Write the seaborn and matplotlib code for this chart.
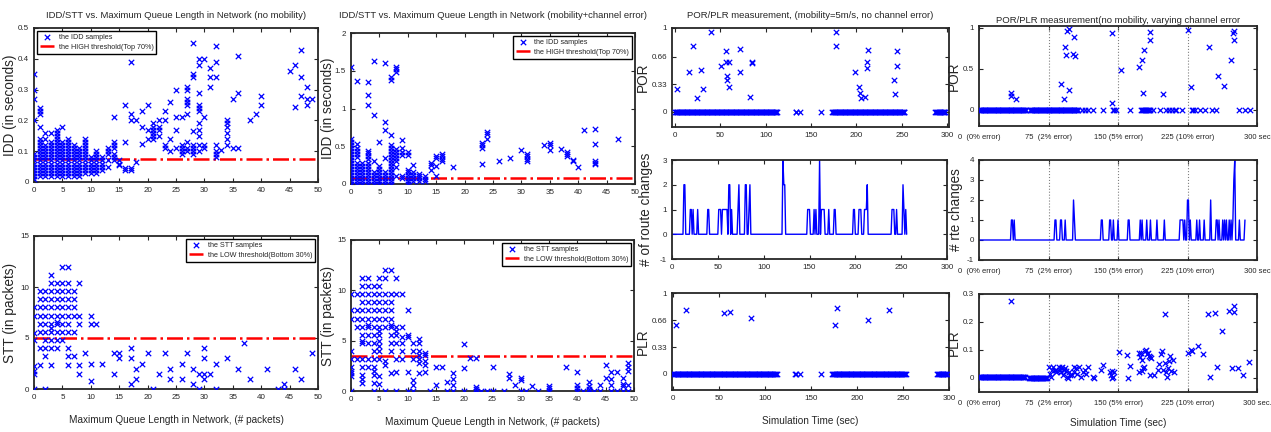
import numpy as np
import matplotlib
matplotlib.use('Agg')
import matplotlib.pyplot as plt
import seaborn as sns

# ---------------- data ----------------
# IDD vs max queue length, no mobility: (queue length, [IDD samples])
idd_nomob = [
    (0, [0.01, 0.02, 0.03, 0.04, 0.05, 0.06, 0.07, 0.08, 0.09, 0.20, 0.27, 0.30, 0.35]),
    (1, [0.02, 0.03, 0.04, 0.05, 0.06, 0.07, 0.08, 0.09, 0.10, 0.11, 0.12, 0.13, 0.14, 0.18, 0.22, 0.23, 0.24]),
    (2, [0.02, 0.03, 0.04, 0.05, 0.06, 0.07, 0.08, 0.09, 0.10, 0.11, 0.12, 0.14, 0.16]),
    (3, [0.02, 0.03, 0.04, 0.05, 0.06, 0.07, 0.08, 0.09, 0.10, 0.11, 0.12, 0.13, 0.16]),
    (4, [0.02, 0.03, 0.04, 0.05, 0.06, 0.07, 0.08, 0.09, 0.10, 0.11, 0.12, 0.13, 0.14, 0.15, 0.16, 0.17]),
    (5, [0.02, 0.03, 0.04, 0.05, 0.06, 0.07, 0.08, 0.09, 0.10, 0.11, 0.12, 0.13, 0.18]),
    (6, [0.02, 0.03, 0.04, 0.05, 0.06, 0.07, 0.08, 0.09, 0.10, 0.11, 0.12, 0.13, 0.14]),
    (7, [0.02, 0.03, 0.04, 0.05, 0.06, 0.07, 0.08, 0.09, 0.10, 0.11, 0.12]),
    (8, [0.02, 0.03, 0.04, 0.05, 0.06, 0.07, 0.08, 0.09, 0.10, 0.11]),
    (9, [0.03, 0.04, 0.05, 0.06, 0.07, 0.08, 0.09, 0.10, 0.11, 0.12, 0.13, 0.14]),
    (10, [0.03, 0.04, 0.05, 0.06, 0.07, 0.08]),
    (11, [0.03, 0.04, 0.05, 0.06, 0.07, 0.08, 0.09, 0.10]),
    (12, [0.04, 0.05, 0.06, 0.07, 0.08]),
    (13, [0.05, 0.07, 0.09, 0.10, 0.11]),
    (14, [0.07, 0.08, 0.09, 0.11, 0.12, 0.13, 0.21]),
    (15, [0.055, 0.06, 0.07]),
    (16, [0.04, 0.045, 0.13, 0.25]),
    (17, [0.04, 0.045, 0.20, 0.22, 0.39]),
    (18, [0.065, 0.20]),
    (19, [0.125, 0.18, 0.23]),
    (20, [0.14, 0.17, 0.25]),
    (21, [0.14, 0.15, 0.16, 0.17, 0.18, 0.19]),
    (22, [0.15, 0.17, 0.18, 0.20]),
    (23, [0.11, 0.12, 0.20, 0.23]),
    (24, [0.10, 0.14, 0.26]),
    (25, [0.11, 0.17, 0.21, 0.30]),
    (26, [0.09, 0.10, 0.11, 0.12, 0.21]),
    (27, [0.10, 0.11, 0.13, 0.22, 0.25, 0.26, 0.27, 0.30, 0.31]),
    (28, [0.09, 0.10, 0.11, 0.12, 0.165, 0.34, 0.35, 0.45]),
    (29, [0.10, 0.12, 0.15, 0.17, 0.19, 0.23, 0.24, 0.25, 0.29, 0.38, 0.40]),
    (30, [0.11, 0.12, 0.21, 0.40]),
    (31, [0.31, 0.34, 0.37]),
    (32, [0.08, 0.09, 0.10, 0.12, 0.34, 0.39, 0.44]),
    (33, [0.105]),
    (34, [0.12, 0.14, 0.16, 0.18, 0.19, 0.20]),
    (35, [0.11, 0.27]),
    (36, [0.11, 0.29, 0.41]),
    (38, [0.20]),
    (39, [0.22]),
    (40, [0.25, 0.28]),
    (45, [0.36]),
    (46, [0.245, 0.38]),
    (47, [0.28, 0.34, 0.43]),
    (48, [0.25, 0.27, 0.31]),
    (49, [0.27]),
]
idd_nomob_thr = 0.075

# STT vs max queue length, no mobility
stt_nomob = [
    (0, [0, 1.5, 1.8, 2.3, 4.8, 5.5, 7.2, 8.0]),
    (1, [2.4, 4.0, 5.6, 6.4, 7.2, 8.0, 8.8, 9.6]),
    (2, [0, 3.2, 4.0, 4.8, 5.6, 6.4, 7.2, 8.0, 8.8, 9.6]),
    (3, [2.4, 4.0, 4.8, 5.6, 6.0, 6.4, 7.2, 8.0, 8.8, 9.6, 10.4, 11.2]),
    (4, [4.0, 4.8, 5.6, 6.4, 6.6, 7.2, 8.0, 8.8, 9.6, 10.4]),
    (5, [4.8, 5.6, 6.4, 7.2, 8.0, 8.8, 9.6, 10.4, 12.0]),
    (6, [2.4, 3.2, 4.0, 5.6, 6.4, 7.2, 8.0, 8.8, 9.6, 10.4, 12.0]),
    (7, [3.2, 5.6, 7.2, 8.0, 8.8, 9.6]),
    (8, [1.5, 2.4, 6.4, 7.2, 10.4]),
    (9, [3.5]),
    (10, [0.8, 2.5, 6.4, 7.2]),
    (11, [6.4]),
    (12, [2.5]),
    (14, [1.5, 3.5]),
    (15, [3.0, 3.5]),
    (17, [0.5, 3.0, 4.0]),
    (18, [1.0, 2.0]),
    (19, [2.5]),
    (20, [3.5]),
    (21, [0]),
    (22, [1.5]),
    (23, [3.5]),
    (24, [1.0, 2.0]),
    (26, [1.0, 2.5]),
    (27, [3.5]),
    (28, [0.5, 2.0]),
    (29, [0, 1.5]),
    (30, [1.0, 1.5, 3.0, 4.0]),
    (31, [1.5]),
    (32, [0, 2.5]),
    (34, [3.0]),
    (36, [2.0]),
    (37, [4.5]),
    (38, [1.0]),
    (41, [2.0]),
    (43, [0]),
    (44, [0, 0.5]),
    (46, [2.0]),
    (47, [1.0]),
    (49, [3.5]),
]
stt_nomob_thr = 5.0

# IDD vs max queue length, mobility + channel error
idd_mob = [
    (0, [0.0, 0.04, 0.08, 0.12, 0.16, 0.20, 0.24, 0.28, 0.32, 0.36, 0.40, 0.44, 0.48, 0.52, 0.56, 0.60, 1.55]),
    (1, [0.0, 0.04, 0.08, 0.12, 0.16, 0.20, 0.24, 0.28, 0.36, 0.40, 0.44, 0.48, 0.53, 1.37]),
    (2, [0.0, 0.04, 0.08, 0.12, 0.16, 0.20, 0.24, 0.28]),
    (3, [0.0, 0.04, 0.08, 0.12, 0.16, 0.20, 0.24, 0.28, 0.33, 0.37, 0.41, 0.44, 1.04, 1.18, 1.35]),
    (4, [0.0, 0.04, 0.08, 0.12, 0.16, 0.30, 0.91, 1.63]),
    (5, [0.0, 0.04, 0.08, 0.12, 0.16, 0.20, 0.24, 0.56]),
    (6, [0.0, 0.04, 0.08, 0.12, 0.16, 0.34, 0.72, 0.82, 1.60]),
    (7, [0.0, 0.04, 0.08, 0.12, 0.16, 0.20, 0.24, 0.28, 0.32, 0.36, 0.40, 0.44, 0.48, 0.52, 0.65, 1.38, 1.42]),
    (8, [0.10, 0.22, 0.30, 0.34, 0.38, 0.42, 0.46, 1.48, 1.52, 1.55]),
    (9, [0.08, 0.10, 0.38, 0.42, 0.48, 0.58]),
    (10, [0.0, 0.04, 0.08, 0.12, 0.16, 0.18, 0.38, 0.42]),
    (11, [0.04, 0.08, 0.12, 0.16, 0.25]),
    (12, [0.04, 0.08, 0.11, 0.13]),
    (13, [0.04, 0.07, 0.10]),
    (14, [0.18, 0.25, 0.28]),
    (15, [0.10, 0.24, 0.34, 0.37]),
    (16, [0.30, 0.33, 0.37, 0.40]),
    (18, [0.22]),
    (23, [0.27, 0.48, 0.51, 0.54]),
    (24, [0.60, 0.66, 0.69]),
    (26, [0.30]),
    (28, [0.35]),
    (30, [0.45]),
    (31, [0.30, 0.33, 0.37, 0.40]),
    (34, [0.51]),
    (35, [0.45, 0.51, 0.54]),
    (37, [0.47]),
    (38, [0.37, 0.40, 0.43]),
    (39, [0.30, 0.32]),
    (40, [0.23]),
    (41, [0.72]),
    (43, [0.26, 0.28, 0.30, 0.53, 0.73]),
    (47, [0.59]),
]
idd_mob_thr = 0.08

# STT vs max queue length, mobility + channel error
stt_mob = [
    (0, [0, 1.5, 1.8, 2.0, 2.4, 3.2, 4.0, 7.2, 8.0, 9.6]),
    (1, [3.2, 6.4, 7.2, 8.0, 9.6]),
    (2, [0.8, 1.2, 1.6, 2.4, 3.2, 4.8, 5.0, 5.6, 6.4, 7.2, 8.0, 8.8, 9.6, 10.4, 11.2]),
    (3, [2.4, 3.2, 4.8, 5.6, 6.4, 6.6, 7.2, 8.0, 8.8, 9.6, 10.4, 11.2]),
    (4, [0, 0.8, 1.6, 2.0, 2.4, 3.2, 4.0, 4.8, 5.6, 6.4, 7.2, 8.0, 8.8, 9.6, 10.4]),
    (5, [0.7, 1.5, 3.2, 4.0, 4.5, 5.0, 5.6, 6.0, 6.4, 7.2, 8.0, 8.8, 9.6, 10.4, 11.2]),
    (6, [0, 2.6, 3.0, 6.4, 7.2, 8.0, 8.8, 9.6, 11.2, 12.0]),
    (7, [1.8, 4.0, 4.8, 5.6, 6.4, 6.6, 7.2, 8.0, 8.8, 9.6, 12.0]),
    (8, [0, 1.9, 3.2, 4.8, 5.6, 6.0, 6.4, 9.6, 11.2]),
    (9, [3.2, 4.0, 4.8, 5.4, 6.4, 9.6]),
    (10, [0, 1.9, 5.4, 5.6, 8.0]),
    (11, [0, 0.6, 1.1, 3.2, 4.0, 4.8]),
    (12, [1.8, 2.8, 3.2, 3.6, 4.0, 4.8, 5.2]),
    (13, [1.9, 2.6, 3.0, 3.6, 3.8]),
    (14, [0]),
    (15, [0.6, 2.4]),
    (16, [2.4]),
    (17, [0, 0.9]),
    (18, [0, 0.6, 1.2, 1.8]),
    (20, [0, 2.3, 4.7]),
    (21, [3.3]),
    (22, [0, 0.2, 0.4, 3.3]),
    (23, [0]),
    (24, [0]),
    (25, [0, 2.4]),
    (27, [0]),
    (28, [1.3, 1.7]),
    (29, [0.6]),
    (30, [0, 1.1, 1.3]),
    (31, [0]),
    (32, [0.5]),
    (33, [0]),
    (35, [0, 0.3, 0.5]),
    (38, [2.4]),
    (40, [0, 0.3, 0.6, 1.9]),
    (41, [0]),
    (42, [0, 0.2, 0.5, 0.9]),
    (43, [0]),
    (44, [0, 0.6]),
    (45, [1.3, 2.6]),
    (46, [0, 0.6, 1.2, 1.9]),
    (47, [0, 1.9]),
    (48, [0, 0.5, 0.7, 1.3]),
    (49, [0, 0.6, 2.0, 2.4, 2.8]),
]
stt_mob_thr = 3.5

# POR/PLR, mobility = 5 m/s (simulation seconds)
mob_zero_spans = [(0, 113), (133, 134), (138, 138), (161, 161), (173, 253), (287, 298)]
por_mob = [(2, 0.27), (16, 0.47), (20, 0.78), (25, 0.16), (29, 0.5), (31, 0.27), (40, 0.95),
           (51, 0.55), (57, 0.73), (57, 0.6), (58, 0.38), (58, 0.43), (60, 0.6), (60, 0.3),
           (72, 0.75), (72, 0.47), (83, 0.18), (85, 0.58), (85, 0.6), (178, 0.95), (178, 0.78),
           (199, 0.47), (203, 0.3), (204, 0.22), (205, 0.16), (210, 0.18), (212, 0.52),
           (212, 0.6), (213, 0.74), (241, 0.38), (242, 0.21), (245, 0.55), (245, 0.72)]
plr_mob = [(3, 0.6), (14, 0.79), (56, 0.75), (62, 0.77), (85, 0.69), (176, 0.61),
           (178, 0.81), (212, 0.66), (235, 0.79)]
route_mob_end = 256
route_mob = [(13, 2), (14, 2), (20, 1), (21, 1), (23, 1), (28, 1), (39, 1), (40, 1), (51, 1),
             (52, 1), (53, 1), (55, 1), (56, 1), (57, 1), (58, 1), (59, 1), (60, 1), (62, 2),
             (63, 2), (65, 1), (72, 1), (73, 2), (80, 2), (81, 2), (84, 1), (85, 2), (121, 3),
             (122, 2), (123, 2), (148, 1), (149, 1), (150, 1), (155, 1), (157, 1), (161, 3),
             (163, 1), (164, 1), (165, 1), (166, 1), (171, 1), (177, 1), (178, 1), (198, 1),
             (199, 1), (204, 1), (205, 1), (206, 1), (210, 1), (211, 1), (212, 1), (213, 2),
             (240, 1), (241, 1), (242, 1), (245, 1), (252, 2), (253, 1), (255, 1)]

# POR/PLR, no mobility, varying channel error
err_bounds = [75, 150, 225]
err_tick_labels = ['0  (0% error)', '75  (2% error)', '150 (5% error)', '225 (10% error)', '300 sec']
por_err_zero_spans = [(0, 51), (55, 107), (175, 184)]
por_err_zero_single = [111, 114, 118, 123, 134, 145, 146, 148, 163, 188, 195, 202, 205, 208,
                       211, 213, 219, 230, 231, 233, 238, 244, 251, 256, 281, 287, 292]
por_err = [(35, 0.2), (35, 0.16), (40, 0.13), (89, 0.31), (92, 0.13), (93, 0.76), (94, 0.67),
           (95, 0.96), (97, 0.98), (97, 0.24), (101, 0.68), (103, 0.89), (104, 0.65),
           (143, 0.08), (144, 0.94), (153, 0.48), (173, 0.52), (176, 0.6), (177, 0.2),
           (178, 0.73), (184, 0.95), (185, 0.85), (199, 0.19), (226, 0.97), (229, 0.27),
           (248, 0.76), (258, 0.41), (264, 0.29), (272, 0.6), (274, 0.94), (275, 0.96),
           (275, 0.85)]
route_err_end = 287
route_err = [(35, 1), (36, 1), (38, 1), (82, 1), (83, 1), (88, 1), (89, 1), (93, 1), (102, 2),
             (103, 1), (132, 1), (133, 1), (141, 1), (142, 1), (145, 1), (150, 1), (161, 1),
             (162, 1), (174, 1), (176, 1), (181, 1), (185, 1), (192, 1), (200, 1), (217, 1),
             (218, 1), (219, 1), (220, 1), (222, 1), (225, 2), (226, 2), (228, 1), (235, 1),
             (238, 1), (243, 1), (250, 2), (256, 1), (257, 1), (259, 1), (263, 1), (265, 1),
             (267, 1), (270, 1), (272, 1), (274, 1), (275, 3), (276, 4), (281, 1), (287, 1)]
plr_err_base = [(0, 50, 0.005), (54, 73, 0.0)]
plr_err = [(34, 0.275),
           (76, 0.04), (77, 0.015), (78, 0.005), (79, 0.03), (80, 0.04), (82, 0.03), (83, 0.02),
           (84, 0.025), (86, 0.04), (87, 0.03), (88, 0.02), (89, 0.035), (90, 0.04), (91, 0.01),
           (92, 0.03), (93, 0.035), (94, 0.025), (95, 0.005), (96, 0.0), (97, 0.02), (98, 0.01),
           (100, 0.01), (102, 0.04), (103, 0.02), (105, 0.035), (106, 0.015), (108, 0.04),
           (110, 0.005), (112, 0.02), (114, 0.03), (116, 0.015), (118, 0.04), (123, 0.005),
           (124, 0.0), (132, 0.03), (134, 0.045), (141, 0.02), (142, 0.01), (143, 0.0),
           (144, 0.025), (145, 0.005), (146, 0.02),
           (151, 0.093), (160, 0.082), (161, 0.0), (163, 0.042), (173, 0.088), (173, 0.02),
           (174, 0.075), (175, 0.09), (176, 0.065), (176, 0.025), (177, 0.035), (178, 0.04),
           (179, 0.095), (180, 0.1), (181, 0.085), (182, 0.09), (183, 0.08), (184, 0.01),
           (185, 0.075), (186, 0.07), (189, 0.01), (193, 0.03), (194, 0.05), (196, 0.085),
           (197, 0.095), (199, 0.03), (201, 0.227), (201, 0.055), (202, 0.02), (203, 0.005),
           (204, 0.035), (205, 0.06), (206, 0.08), (207, 0.025), (209, 0.065), (210, 0.02),
           (226, 0.09), (229, 0.1), (230, 0.095), (236, 0.115), (242, 0.085), (247, 0.227),
           (249, 0.005), (255, 0.232), (257, 0.04), (262, 0.168), (270, 0.238), (273, 0.037),
           (275, 0.258), (275, 0.234), (280, 0.037), (285, 0.01), (291, 0.058)]

# ---------------- helpers ----------------
def flat(cols):
    xs, ys = [], []
    for x, vals in cols:
        for v in vals:
            xs.append(x)
            ys.append(v)
    return xs, ys

def span_times(spans):
    t = []
    for a, b in spans:
        t.extend(range(a, b + 1))
    return t

def spikes(events, t_end):
    t = np.arange(t_end + 1)
    c = np.zeros(t_end + 1)
    for ti, n in events:
        c[ti] = n
    return t, c

# ---------------- style ----------------
sns.set_style('ticks')
plt.rcParams['font.family'] = ['Liberation Sans', 'DejaVu Sans']
plt.rcParams['xtick.direction'] = 'in'
plt.rcParams['ytick.direction'] = 'in'
plt.rcParams['xtick.top'] = True
plt.rcParams['ytick.right'] = True
plt.rcParams['xtick.major.size'] = 3
plt.rcParams['ytick.major.size'] = 3
plt.rcParams['xtick.labelsize'] = 5.8
plt.rcParams['ytick.labelsize'] = 5.8
plt.rcParams['axes.linewidth'] = 1.3

BLUE = '#0000ff'
TITLE_FS = 6.8
XLAB_FS = 7.2
W, H = 1271, 432
fig = plt.figure(figsize=(W / 100, H / 100), dpi=100)

def add_ax(l, t, r, b):
    ax = fig.add_axes([l / W, 1 - b / H, (r - l) / W, (b - t) / H])
    ax._px = (l, r)
    return ax

def xmark(ax, x, y, label=None):
    sns.scatterplot(x=x, y=y, marker='x', color=BLUE, s=15, linewidth=0.9,
                    ax=ax, label=label, legend=False, zorder=3)

def ylab(ax, text, xc, fs=9.8):
    # xc: pixel column of the label centre
    ax.set_ylabel(text, fontsize=fs)
    l, r = ax._px
    ax.yaxis.set_label_coords((xc + fs * 0.55 - l) / (r - l), 0.5)

def legend(ax, loc):
    ax.legend(loc=loc, fancybox=False, edgecolor='black', framealpha=1,
              fontsize=5.2, handlelength=2.0, borderpad=0.4, labelspacing=0.4,
              handletextpad=0.6, borderaxespad=0.4)

# ---------------- column 1 / 2: IDD & STT ----------------
ax = add_ax(34, 28, 318, 182)
x, y = flat(idd_nomob)
xmark(ax, x, y, 'the IDD samples')
ax.axhline(idd_nomob_thr, color='red', ls='-.', lw=1.8, label='the HIGH threshold(Top 70%)')
ax.set_xlim(0, 50); ax.set_ylim(0, 0.5)
ax.set_xticks(range(0, 51, 5)); ax.set_yticks([0, 0.1, 0.2, 0.3, 0.4, 0.5])
ax.set_yticklabels(['0', '0.1', '0.2', '0.3', '0.4', '0.5'])
ylab(ax, 'IDD (in seconds)', 12)
ax.set_title('IDD/STT vs. Maximum Queue Length in Network (no mobility)', fontsize=TITLE_FS, pad=7)
legend(ax, 'upper left')

ax = add_ax(34, 236, 318, 389)
x, y = flat(stt_nomob)
xmark(ax, x, y, 'the STT samples')
ax.axhline(stt_nomob_thr, color='red', ls='-.', lw=1.8, label='the LOW threshold(Bottom 30%)')
ax.set_xlim(0, 50); ax.set_ylim(0, 15)
ax.set_xticks(range(0, 51, 5)); ax.set_yticks([0, 5, 10, 15])
ylab(ax, 'STT (in packets)', 12)
ax.set_xlabel('Maximum Queue Length in Network, (# packets)', fontsize=XLAB_FS, labelpad=10)
legend(ax, 'upper right')

ax = add_ax(351, 33, 635, 184)
x, y = flat(idd_mob)
xmark(ax, x, y, 'the IDD samples')
ax.axhline(idd_mob_thr, color='red', ls='-.', lw=1.8, label='the HIGH threshold(Top 70%)')
ax.set_xlim(0, 50); ax.set_ylim(0, 2)
ax.set_xticks(range(0, 51, 5)); ax.set_yticks([0, 0.5, 1, 1.5, 2])
ax.set_yticklabels(['0', '0.5', '1', '1.5', '2'])
ylab(ax, 'IDD (in seconds)', 330)
ax.set_title('IDD/STT vs. Maximum Queue Length in Network (mobility+channel error)', fontsize=TITLE_FS, pad=11)
legend(ax, 'upper right')

ax = add_ax(351, 240, 634, 391)
x, y = flat(stt_mob)
xmark(ax, x, y, 'the STT samples')
ax.axhline(stt_mob_thr, color='red', ls='-.', lw=1.8, label='the LOW threshold(Bottom 30%)')
ax.set_xlim(0, 50); ax.set_ylim(0, 15)
ax.set_xticks(range(0, 51, 5)); ax.set_yticks([0, 5, 10, 15])
ylab(ax, 'STT (in packets)', 330)
ax.set_xlabel('Maximum Queue Length in Network, (# packets)', fontsize=XLAB_FS, labelpad=10)
legend(ax, 'upper right')

# ---------------- column 3: mobility ----------------
zt = span_times(mob_zero_spans)

ax = add_ax(672, 28, 949, 127)
xmark(ax, zt, [0] * len(zt))
xmark(ax, [p[0] for p in por_mob], [p[1] for p in por_mob])
ax.set_xlim(-3, 302); ax.set_ylim(-0.18, 1)
ax.set_xticks(range(0, 301, 50)); ax.set_yticks([0, 0.33, 0.66, 1])
ax.set_yticklabels(['0', '0.33', '0.66', '1'])
ylab(ax, 'POR', 644)
ax.set_title('POR/PLR measurement, (mobility=5m/s, no channel error)', fontsize=TITLE_FS, pad=7)

ax = add_ax(672, 160, 947, 259)
t, c = spikes(route_mob, route_mob_end)
sns.lineplot(x=t, y=c, color=BLUE, lw=1.0, ax=ax)
ax.set_xlim(0, 300); ax.set_ylim(-1, 3)
ax.set_xticks(range(0, 301, 50)); ax.set_yticks([-1, 0, 1, 2, 3])
ax.set_yticklabels(['-1', '0', '1', '2', '3'])
ylab(ax, '# of route changes', 648)

ax = add_ax(672, 293, 949, 390)
xmark(ax, zt, [0] * len(zt))
xmark(ax, [p[0] for p in plr_mob], [p[1] for p in plr_mob])
ax.set_xlim(-1, 300); ax.set_ylim(-0.2, 1)
ax.set_xticks(range(0, 301, 50)); ax.set_yticks([0, 0.33, 0.66, 1])
ax.set_yticklabels(['0', '0.33', '0.66', '1'])
ylab(ax, 'PLR', 644)
ax.set_xlabel('Simulation Time (sec)', fontsize=XLAB_FS, labelpad=10)

# ---------------- column 4: varying channel error ----------------
def err_axis(ax, last_label):
    for v in err_bounds:
        ax.axvline(v, color='gray', ls=':', lw=0.8, zorder=1)
    ax.set_xlim(0, 300)
    ax.set_xticks([0] + err_bounds + [300])
    ax.set_xticklabels(err_tick_labels[:-1] + [last_label], fontsize=5.5)
    ax.tick_params(axis='x', pad=6)

ax = add_ax(979, 26, 1257, 126)
zt = span_times(por_err_zero_spans) + por_err_zero_single
xmark(ax, zt, [0] * len(zt))
xmark(ax, [p[0] for p in por_err], [p[1] for p in por_err])
err_axis(ax, err_tick_labels[-1])
ax.set_ylim(-0.2, 1.02); ax.set_yticks([0, 0.5, 1])
ax.set_yticklabels(['0', '0.5', '1'])
ylab(ax, 'POR', 955)
ax.set_title('POR/PLR measurement(no mobility, varying channel error', fontsize=TITLE_FS, pad=2)

ax = add_ax(979, 160, 1257, 260)
t, c = spikes(route_err, route_err_end)
sns.lineplot(x=t, y=c, color=BLUE, lw=1.0, ax=ax)
err_axis(ax, err_tick_labels[-1])
ax.set_ylim(-1, 4); ax.set_yticks([-1, 0, 1, 2, 3, 4])
ax.set_yticklabels(['-1', '0', '1', '2', '3', '4'])
ylab(ax, '# rte changes', 958)

ax = add_ax(979, 294, 1257, 392)
bx, by = [], []
for a, b, v in plr_err_base:
    for ti in range(a, b + 1):
        bx.append(ti)
        by.append(v)
xmark(ax, bx, by)
xmark(ax, [p[0] for p in plr_err], [p[1] for p in plr_err])
err_axis(ax, '300 sec.')
ax.set_ylim(-0.05, 0.3); ax.set_yticks([0, 0.1, 0.2, 0.3])
ax.set_yticklabels(['0', '0.1', '0.2', '0.3'])
ylab(ax, 'PLR', 955)
ax.set_xlabel('Simulation Time (sec)', fontsize=XLAB_FS, labelpad=8)

fig.savefig('out.png', dpi=100)
